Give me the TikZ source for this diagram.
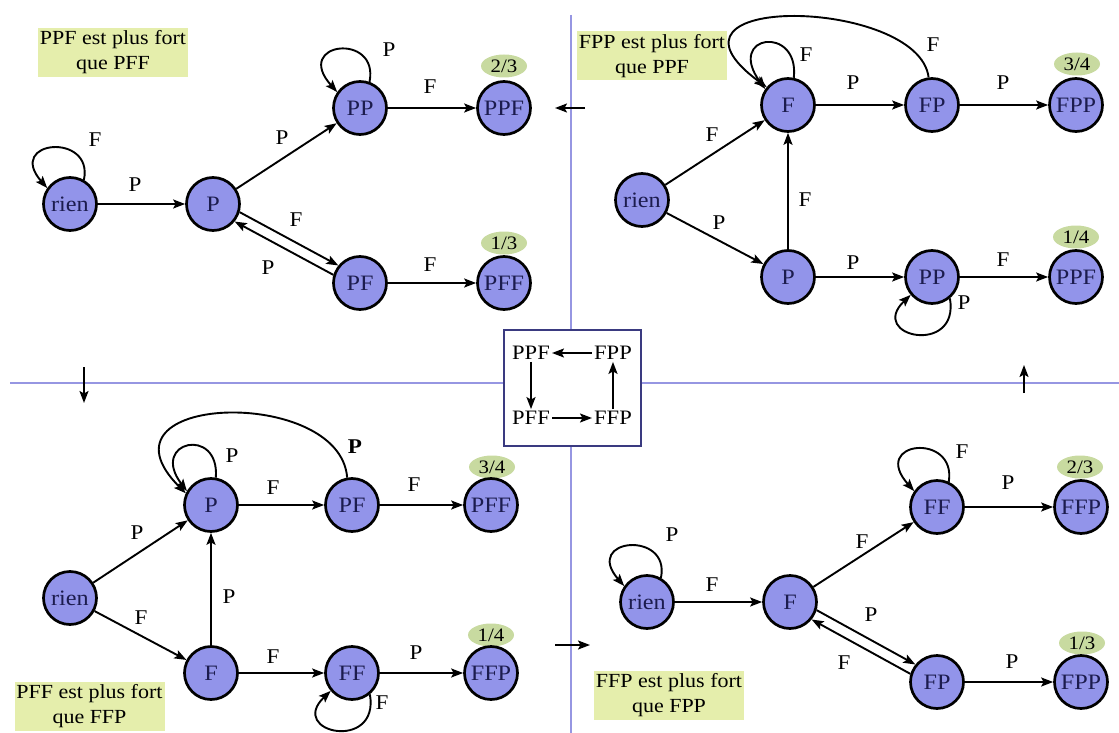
\documentclass[tikz,border=0pt]{standalone}
\usepackage{fontspec}
\setmainfont{Liberation Serif}[FakeStretch=1.1]
\usetikzlibrary{arrows.meta,shapes.geometric}

\definecolor{stfill}{RGB}{146,148,234}
\definecolor{sttext}{RGB}{28,28,78}
\definecolor{notebg}{RGB}{229,238,172}
\definecolor{probbg}{RGB}{200,218,160}
\definecolor{divider}{RGB}{150,150,226}
\definecolor{boxframe}{RGB}{58,58,128}

\begin{document}
\begin{tikzpicture}[x=1pt,y=1pt,
  st/.style={circle,draw=black,line width=2.7pt,fill=stfill,minimum size=53pt,
    inner sep=0pt,text=sttext,font=\fontsize{22}{22}\selectfont},
  prob/.style={ellipse,fill=probbg,minimum width=46pt,minimum height=23pt,
    inner sep=0pt,font=\fontsize{19}{19}\selectfont},
  note/.style={fill=notebg,minimum width=150pt,minimum height=49pt,inner sep=0pt,
    align=center,font=\fontsize{20}{25}\selectfont},
  lbl/.style={inner sep=0pt,font=\fontsize{21}{21}\selectfont},
  cst/.style={inner sep=2pt,font=\fontsize{20.5}{20.5}\selectfont},
  ed/.style={line width=1.9pt,-{Stealth[length=12pt,width=9pt,inset=2.5pt]}},
  divline/.style={draw=divider,line width=2pt},
  ]
\useasboundingbox (0,0) rectangle (1119,-733);

% dividing lines between the four automata
\draw[divline] (10,-383) -- (1119,-383);
\draw[divline] (571,-15) -- (571,-733);

% central summary box
\node[draw=boxframe,line width=2.5pt,fill=white,minimum width=137pt,minimum height=116pt,
  inner sep=0pt] (cbox) at (572.5,-388) {};
\node[cst] (cPPF) at (531,-353) {PPF};
\node[cst] (cFPP) at (613,-353) {FPP};
\node[cst] (cPFF) at (531,-418) {PFF};
\node[cst] (cFFP) at (613,-418) {FFP};
\draw[ed] (cFPP) -- (cPPF);
\draw[ed] (cPPF) -- (cPFF);
\draw[ed] (cPFF) -- (cFFP);
\draw[ed] (cFFP) -- (cFPP);

% arrows from one quarter to the next
\coordinate (qa1) at (585,-108);  \coordinate (qa2) at (555,-108);
\coordinate (qb1) at (84,-367);   \coordinate (qb2) at (84,-403);
\coordinate (qc1) at (555,-645);  \coordinate (qc2) at (590,-645);
\coordinate (qd1) at (1024,-393); \coordinate (qd2) at (1024,-365);
\draw[ed] (qa1) -- (qa2);
\draw[ed] (qb1) -- (qb2);
\draw[ed] (qc1) -- (qc2);
\draw[ed] (qd1) -- (qd2);

% ---------- PPF against PFF ----------
\node[note] (nA) at (113,-52.5) {PPF est plus fort\\que PFF};
\node[prob] (wA1) at (504,-66) {2/3};
\node[prob] (wA2) at (504,-243) {1/3};
\node[st] (rA) at (70,-204) {rien};
\node[st] (pA) at (213,-204) {P};
\node[st] (ppA) at (360,-108) {PP};
\node[st] (ppfA) at (504,-108) {PPF};
\node[st] (pfA) at (360,-283) {PF};
\node[st] (pffA) at (504,-283) {PFF};
\draw[ed] (rA.60) .. controls +(10,48) and +(-42,48) .. (rA.145);
\draw[ed] (rA) -- (pA);
\draw[ed] (pA) -- (ppA);
\draw[ed] (ppA.70) .. controls +(10,50) and +(-45,50) .. (ppA.145);
\draw[ed] (ppA) -- (ppfA);
\draw[ed] (pA.-17) -- (pfA.141);
\draw[ed] (pfA.163) -- (pA.-39);
\draw[ed] (pfA) -- (pffA);
\node[lbl] at (95,-140) {F};
\node[lbl] at (135,-185) {P};
\node[lbl] at (282,-138) {P};
\node[lbl] at (389,-50) {P};
\node[lbl] at (430,-87) {F};
\node[lbl] at (296,-220) {F};
\node[lbl] at (268,-268) {P};
\node[lbl] at (430,-265) {F};

% ---------- FPP against PPF ----------
\node[note] (nB) at (652,-56) {FPP est plus fort\\que PPF};
\node[prob] (wB1) at (1077,-64) {3/4};
\node[prob] (wB2) at (1076,-237) {1/4};
\node[st] (rB) at (642,-200) {rien};
\node[st] (fB) at (788,-105) {F};
\node[st] (fpB) at (932,-105) {FP};
\node[st] (fppB) at (1076,-105) {FPP};
\node[st] (pB) at (788,-277) {P};
\node[st] (ppB) at (932,-277) {PP};
\node[st] (ppfB) at (1076,-277) {PPF};
\draw[ed] (rB) -- (fB);
\draw[ed] (rB) -- (pB);
\draw[ed] (pB) -- (fB);
\draw[ed] (fB) -- (fpB);
\draw[ed] (fpB) -- (fppB);
\draw[ed] (pB) -- (ppB);
\draw[ed] (ppB) -- (ppfB);
\draw[ed] (fB.78) .. controls +(6,53) and +(-40,55) .. (fB.145);
\draw[ed] (fpB.97) .. controls +(-10,80) and +(-130,95) .. (fB.140);
\draw[ed] (ppB.-50) .. controls +(10,-58) and +(-44,-42) .. (ppB.-140);
\node[lbl] at (712,-135) {F};
\node[lbl] at (719,-223) {P};
\node[lbl] at (805,-200) {F};
\node[lbl] at (853,-83) {P};
\node[lbl] at (1003,-83) {P};
\node[lbl] at (853,-263) {P};
\node[lbl] at (1003,-260) {F};
\node[lbl] at (806,-55) {F};
\node[lbl] at (933,-45) {F};
\node[lbl] at (964,-303) {P};

% ---------- PFF against FFP ----------
\node[note] (nC) at (89.5,-706.5) {PFF est plus fort\\que FFP};
\node[prob] (wC1) at (492,-467) {3/4};
\node[prob] (wC2) at (491,-635) {1/4};
\node[st] (pC) at (211,-505) {P};
\node[st] (pfC) at (352,-505) {PF};
\node[st] (pffC) at (491,-505) {PFF};
\node[st] (rC) at (70,-598) {rien};
\node[st] (fC) at (211,-673) {F};
\node[st] (ffC) at (352,-673) {FF};
\node[st] (ffpC) at (491,-673) {FFP};
\draw[ed] (rC) -- (pC);
\draw[ed] (rC) -- (fC);
\draw[ed] (fC) -- (pC);
\draw[ed] (pC) -- (pfC);
\draw[ed] (pfC) -- (pffC);
\draw[ed] (fC) -- (ffC);
\draw[ed] (ffC) -- (ffpC);
\draw[ed] (pC.80) .. controls +(4,52) and +(-38,50) .. (pC.150);
\draw[ed] (pfC.100) .. controls +(-7,92) and +(-100,100) .. (pC.155);
\draw[ed] (ffC.-50) .. controls +(10,-58) and +(-44,-42) .. (ffC.-140);
\node[lbl] at (137,-533) {P};
\node[lbl] at (141,-618) {F};
\node[lbl] at (229,-597) {P};
\node[lbl] at (273,-488) {F};
\node[lbl] at (414,-485) {F};
\node[lbl] at (273,-657) {F};
\node[lbl] at (416,-653) {P};
\node[lbl] at (232,-456) {P};
\node[lbl] at (355,-447) {\textbf{P}};
\node[lbl] at (382,-703) {F};

% ---------- FFP against FPP ----------
\node[note] (nD) at (669,-695) {FFP est plus fort\\que FPP};
\node[prob] (wD1) at (1080,-467) {2/3};
\node[prob] (wD2) at (1082,-643) {1/3};
\node[st] (rD) at (647,-602) {rien};
\node[st] (fD) at (790,-602) {F};
\node[st] (ffD) at (937,-507) {FF};
\node[st] (ffpD) at (1081,-507) {FFP};
\node[st] (fpD) at (937,-682) {FP};
\node[st] (fppD) at (1081,-682) {FPP};
\draw[ed] (rD.60) .. controls +(10,48) and +(-42,48) .. (rD.145);
\draw[ed] (rD) -- (fD);
\draw[ed] (fD) -- (ffD);
\draw[ed] (ffD.65) .. controls +(8,50) and +(-45,50) .. (ffD.145);
\draw[ed] (ffD) -- (ffpD);
\draw[ed] (fD.-17) -- (fpD.141);
\draw[ed] (fpD.163) -- (fD.-39);
\draw[ed] (fpD) -- (fppD);
\node[lbl] at (672,-535) {P};
\node[lbl] at (712,-585) {F};
\node[lbl] at (862,-542) {F};
\node[lbl] at (962,-452) {F};
\node[lbl] at (1008,-483) {P};
\node[lbl] at (871,-615) {P};
\node[lbl] at (844,-663) {F};
\node[lbl] at (1012,-662) {P};
\end{tikzpicture}
\end{document}
